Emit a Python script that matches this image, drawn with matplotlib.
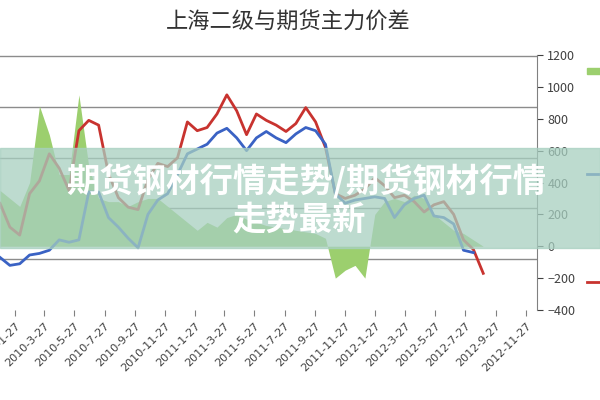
import numpy as np
import pandas as pd
import matplotlib
matplotlib.use('Agg')
from matplotlib import pyplot as plt
from matplotlib.patches import Rectangle

plt.rcParams['font.family'] = ['Noto Sans CJK SC', 'DejaVu Sans']

# data (one point every 20 days)
dates = pd.date_range('2009-12-27', periods=50, freq='20D')
red_vals = [269, 120, 70, 330, 410, 580, 490, 350, 725, 790, 760, 455, 305, 245, 230, 420, 520, 500, 555, 780,
            725, 745, 830, 950, 850, 700, 830, 790, 760, 720, 770, 870, 780, 620, 330, 300, 320, 360, 430, 380,
            305, 320, 280, 215, 260, 280, 200, 40, -20, -170]
blue_vals = [-70, -120, -110, -55, -45, -25, 40, 25, 40, 340, 340, 180, 120, 50, -10, 200, 290, 330, 450, 580,
             610, 640, 710, 740, 680, 600, 680, 720, 680, 650, 705, 745, 725, 640, 330, 270, 290, 300, 310, 300,
             180, 260, 300, 320, 190, 180, 140, -25, -40, np.nan]
green_vals = [350, 300, 250, 400, 880, 700, 450, 450, 950, 500, 300, 280, 280, 250, 280, 300, 300, 250, 200, 150,
              100, 150, 120, 180, 200, 170, 150, 130, 120, 110, 100, 90, 80, 50, -200, -150, -120, -200, 200, 280,
              300, 280, 320, 300, 200, 150, 100, 80, 40, 0]
tick_labels = ['2010-1-27', '2010-3-27', '2010-5-27', '2010-7-27', '2010-9-27', '2010-11-27',
               '2011-1-27', '2011-3-27', '2011-5-27', '2011-7-27', '2011-9-27', '2011-11-27',
               '2012-1-27', '2012-3-27', '2012-5-27', '2012-7-27', '2012-9-27', '2012-11-27']
grid_vals = [1194, 875, 556, 237, -81]

fig = plt.figure(figsize=(6, 4), dpi=100)
ax = fig.add_axes([0.0, 0.225, 0.895, 0.6375])
ax.fill_between(dates, 0, green_vals, color='#9ccf6e', lw=0, zorder=2)
ax.plot(dates, red_vals, color='#c8332f', lw=2, zorder=4)
ax.plot(dates, blue_vals, color='#3a62c4', lw=2, zorder=4)
for g in grid_vals:
    ax.axhline(g, color='#8c8c8c', lw=1, zorder=1)

ax.set_xlim(pd.Timestamp('2009-12-27'), pd.Timestamp('2012-12-20'))
ax.set_ylim(-400, 1200)
ax.yaxis.tick_right()
ax.set_yticks(range(-400, 1201, 200))
ax.tick_params(axis='y', labelsize=9, colors='#404040', length=4)
ax.set_xticks(pd.to_datetime(tick_labels))
ax.set_xticklabels(tick_labels, rotation=45, ha='right', rotation_mode='anchor',
                   fontsize=8, color='#404040', family='DejaVu Sans')
ax.tick_params(axis='x', length=4, colors='#808080', labelcolor='#404040')
for s in ['left', 'top', 'bottom']:
    ax.spines[s].set_visible(False)
ax.spines['right'].set_color('#808080')

fig.text(0.48, 0.945, '上海二级与期货主力价差', ha='center', va='center', fontsize=16, color='#333333')

# legend marks at the cut-off right edge
fig.patches.append(Rectangle((0.978, 0.815), 0.03, 0.015, transform=fig.transFigure, color='#9ccf6e'))
fig.lines.append(plt.Line2D([0.978, 1.0], [0.565, 0.565], transform=fig.transFigure, color='#3a62c4', lw=2))
fig.lines.append(plt.Line2D([0.978, 1.0], [0.295, 0.295], transform=fig.transFigure, color='#c8332f', lw=2))

# overlay banner
fig.patches.append(Rectangle((0, 0.38), 1, 0.25, transform=fig.transFigure, color='#a7cfc0', alpha=0.75, zorder=10))
fig.text(0.51, 0.545, '期货钢材行情走势/期货钢材行情', ha='center', va='center', fontsize=24,
         fontweight='bold', color='white', zorder=11)
fig.text(0.498, 0.45, '走势最新', ha='center', va='center', fontsize=24,
         fontweight='bold', color='white', zorder=11)

plt.savefig('out.png', dpi=100)
